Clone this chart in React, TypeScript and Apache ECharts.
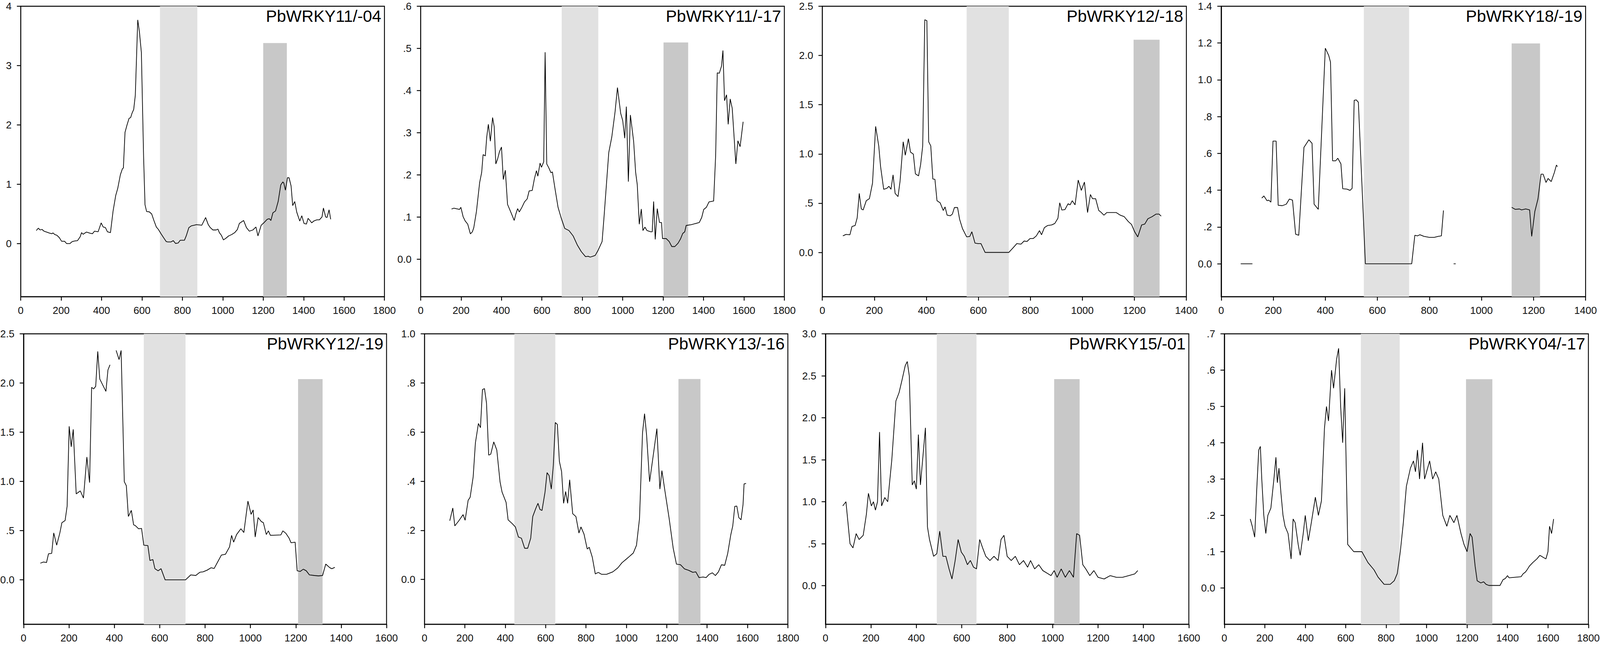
import React, { useEffect, useRef } from "react";
import * as echarts from "echarts";

const REF_W = 4549;
const REF_H = 1652;
const FONT = "'Liberation Sans', Arial, Helvetica, sans-serif";

// ---------- data ----------
const titles = [
  "PbWRKY11/-04", "PbWRKY11/-17", "PbWRKY12/-18", "PbWRKY18/-19",
  "PbWRKY12/-19", "PbWRKY13/-16", "PbWRKY15/-01", "PbWRKY04/-17",
];
const xMaxes = [1800, 1800, 1400, 1400, 1600, 1800, 1600, 1800];
const yMins = [-0.895, -0.089, -0.45, -0.179, -0.452, -0.1825, -0.46, -0.1];
const yTicks1 = [0, 1, 2, 3, 4];
const yTicks2 = [0, 0.1, 0.2, 0.3, 0.4, 0.5, 0.6];
const yTicks3 = [0, 0.5, 1, 1.5, 2, 2.5];
const yTicks4 = [0, 0.2, 0.4, 0.6, 0.8, 1, 1.2, 1.4];
const yTicks5 = [0, 0.5, 1, 1.5, 2, 2.5];
const yTicks6 = [0, 0.2, 0.4, 0.6, 0.8, 1];
const yTicks7 = [0, 0.5, 1, 1.5, 2, 2.5, 3];
const yTicks8 = [0, 0.1, 0.2, 0.3, 0.4, 0.5, 0.6, 0.7];
const integerLabels = [true, false, false, false, false, false, false, false];
// light band [from, to]; dark band [from, to, top]
const lightBands = [[689, 874], [698, 879], [555, 717], [548, 722], [530, 714], [445, 648], [490, 665], [675, 867]];
const darkBands = [[1200, 1317, 3.38], [1202, 1324, 0.514], [1197, 1297, 2.16], [1116, 1225, 1.198], [1210, 1318, 2.04], [1258, 1367, 0.816], [1007, 1119, 2.46], [1195, 1325, 0.575]];

type P = [number, number | null];

const s1: P[] = [[77,0.22],[87,0.26],[96,0.23],[105,0.24],[115,0.21],[128,0.195],[140,0.18],[153,0.167],[160,0.18],[168,0.153],[179,0.14],[191,0.1],[202,0.04],[217,0.04],[227,0],[243,0],[255,0.035],[268,0.045],[281,0.05],[294,0.115],[301,0.185],[309,0.157],[325,0.195],[345,0.174],[355,0.167],[365,0.21],[383,0.2],[398,0.35],[408,0.28],[419,0.27],[429,0.2],[444,0.185],[457,0.55],[470,0.81],[480,0.93],[493,1.16],[503,1.26],[508,1.275],[516,1.875],[526,2.0],[536,2.11],[544,2.125],[551,2.2],[559,2.26],[567,2.5],[579,3.77],[587,3.58],[597,3.22],[608,1.46],[615,0.655],[623,0.54],[636,0.536],[648,0.5],[659,0.39],[671,0.28],[681,0.24],[694,0.167],[707,0.1],[720,0.035],[727,0.028],[743,0.028],[755,0.05],[766,0.003],[779,0.01],[789,0.056],[810,0.056],[819,0.13],[832,0.27],[845,0.3],[858,0.31],[870,0.32],[896,0.31],[915,0.44],[928,0.32],[938,0.27],[951,0.23],[967,0.23],[976,0.244],[983,0.185],[993,0.14],[1003,0.063],[1015,0.09],[1029,0.13],[1044,0.153],[1059,0.185],[1072,0.237],[1082,0.34],[1103,0.39],[1117,0.27],[1131,0.21],[1149,0.23],[1164,0.28],[1174,0.13],[1190,0.31],[1200,0.34],[1220,0.41],[1230,0.42],[1238,0.39],[1248,0.52],[1261,0.55],[1274,0.71],[1287,0.99],[1297,1.04],[1302,1.02],[1310,0.9],[1320,1.11],[1328,1.11],[1338,0.97],[1346,0.64],[1356,0.71],[1366,0.53],[1381,0.38],[1391,0.47],[1402,0.34],[1414,0.33],[1422,0.425],[1429,0.4],[1440,0.35],[1450,0.38],[1465,0.4],[1478,0.4],[1491,0.45],[1498,0.6],[1509,0.45],[1516,0.44],[1526,0.57],[1534,0.41]];

const s2: P[] = [[153,0.119],[164,0.121],[192,0.118],[199,0.123],[210,0.101],[220,0.091],[233,0.083],[246,0.06],[256,0.065],[263,0.075],[276,0.113],[292,0.182],[302,0.206],[309,0.248],[320,0.245],[327,0.29],[335,0.32],[345,0.28],[356,0.336],[364,0.314],[372,0.226],[381,0.238],[390,0.255],[400,0.266],[409,0.189],[419,0.211],[430,0.13],[445,0.113],[463,0.092],[471,0.107],[480,0.12],[488,0.112],[501,0.123],[514,0.136],[527,0.143],[537,0.162],[552,0.163],[563,0.191],[573,0.21],[580,0.197],[591,0.228],[598,0.218],[609,0.231],[616,0.491],[624,0.226],[634,0.217],[645,0.205],[652,0.207],[665,0.167],[680,0.123],[696,0.097],[713,0.073],[734,0.068],[755,0.055],[775,0.034],[795,0.018],[816,0.006],[829,0.007],[839,0.005],[852,0.007],[864,0.009],[877,0.02],[898,0.042],[908,0.103],[931,0.253],[946,0.29],[962,0.349],[974,0.407],[990,0.346],[1000,0.329],[1010,0.287],[1018,0.362],[1028,0.184],[1038,0.342],[1054,0.28],[1064,0.206],[1072,0.177],[1082,0.083],[1092,0.119],[1100,0.068],[1110,0.076],[1120,0.068],[1138,0.065],[1146,0.065],[1153,0.137],[1161,0.047],[1171,0.12],[1182,0.087],[1192,0.087],[1197,0.049],[1215,0.049],[1230,0.042],[1243,0.03],[1258,0.03],[1274,0.038],[1286,0.048],[1297,0.061],[1307,0.065],[1314,0.08],[1340,0.082],[1379,0.087],[1391,0.099],[1401,0.118],[1414,0.123],[1427,0.136],[1450,0.138],[1460,0.246],[1468,0.442],[1478,0.441],[1489,0.458],[1496,0.495],[1504,0.376],[1514,0.39],[1522,0.32],[1532,0.38],[1542,0.358],[1560,0.226],[1570,0.281],[1581,0.267],[1596,0.326]];

const s3: P[] = [[79,0.168],[91,0.183],[106,0.179],[114,0.263],[126,0.273],[134,0.351],[142,0.599],[150,0.441],[157,0.431],[169,0.525],[181,0.546],[193,0.704],[205,1.28],[217,1.08],[224,0.872],[236,0.641],[248,0.651],[256,0.672],[264,0.641],[272,0.788],[280,0.599],[291,0.567],[299,0.725],[311,1.124],[319,0.987],[331,1.155],[339,1.019],[350,0.998],[358,0.798],[370,0.777],[378,0.893],[386,1.082],[394,2.363],[402,2.353],[409,1.124],[417,1.082],[425,0.746],[433,0.742],[441,0.525],[453,0.504],[465,0.426],[472,0.462],[480,0.378],[492,0.372],[500,0.389],[508,0.456],[520,0.456],[528,0.336],[539,0.242],[555,0.158],[567,0.162],[575,0.21],[587,0.095],[598,0.09],[610,0.09],[626,0],[717,0],[732,0.042],[748,0.09],[764,0.084],[776,0.116],[787,0.111],[799,0.141],[811,0.141],[823,0.168],[835,0.221],[843,0.179],[854,0.252],[866,0.273],[882,0.279],[894,0.294],[906,0.347],[913,0.504],[921,0.431],[933,0.435],[945,0.494],[953,0.483],[961,0.525],[972,0.483],[984,0.735],[996,0.63],[1008,0.714],[1020,0.405],[1031,0.588],[1039,0.546],[1051,0.546],[1063,0.426],[1071,0.41],[1083,0.378],[1094,0.405],[1130,0.405],[1146,0.378],[1161,0.363],[1177,0.313],[1189,0.284],[1201,0.21],[1213,0.158],[1228,0.279],[1240,0.288],[1252,0.342],[1268,0.363],[1283,0.389],[1295,0.389],[1303,0.368]];

const s4: P[] = [[75,0],[120,0],[138,null],[156,0.357],[164,0.369],[176,0.343],[183,0.346],[191,0.335],[199,0.667],[211,0.667],[219,0.318],[235,0.316],[250,0.324],[262,0.352],[274,0.346],[286,0.161],[298,0.155],[318,0.633],[337,0.674],[349,0.655],[357,0.324],[373,0.296],[400,1.172],[413,1.133],[420,1.096],[428,0.56],[440,0.56],[448,0.574],[460,0.543],[467,0.408],[483,0.406],[495,0.399],[503,0.41],[511,0.889],[519,0.891],[527,0.878],[554,0],[732,0],[744,0.155],[755,0.152],[763,0.158],[779,0.149],[799,0.144],[819,0.144],[834,0.149],[846,0.152],[854,0.29],[875,null],[893,0],[901,0],[1000,null],[1116,0.307],[1130,0.296],[1146,0.298],[1154,0.293],[1170,0.298],[1185,0.293],[1193,0.149],[1205,0.284],[1217,0.352],[1229,0.487],[1237,0.487],[1248,0.442],[1256,0.464],[1268,0.447],[1280,0.496],[1288,0.537],[1292,0.528]];

const s5: P[] = [[74,0.169],[88,0.181],[101,0.175],[110,0.265],[124,0.269],[133,0.477],[146,0.352],[160,0.477],[169,0.581],[183,0.602],[192,0.748],[201,1.56],[210,1.352],[219,1.529],[232,0.873],[250,0.904],[264,0.831],[279,1.248],[291,0.988],[300,1.956],[309,1.94],[318,1.967],[327,2.321],[336,2.04],[363,1.915],[372,2.133],[381,2.185],[395,null],[408,2.331],[421,2.238],[430,2.331],[444,0.998],[453,0.956],[462,0.644],[475,0.706],[485,0.56],[493,0.55],[507,0.519],[520,0.523],[530,0.352],[548,0.348],[557,0.196],[570,0.206],[579,0.113],[593,0.092],[606,0.113],[624,0],[714,0],[737,0.05],[759,0.044],[777,0.077],[791,0.081],[809,0.098],[827,0.123],[840,0.115],[854,0.175],[872,0.252],[890,0.26],[908,0.335],[917,0.452],[926,0.383],[939,0.46],[958,0.519],[971,0.481],[989,0.8],[1003,0.665],[1012,0.71],[1021,0.435],[1034,0.633],[1048,0.592],[1057,0.581],[1070,0.46],[1079,0.498],[1088,0.452],[1134,0.456],[1143,0.498],[1156,0.473],[1170,0.425],[1179,0.377],[1197,0.383],[1206,0.092],[1219,0.085],[1233,0.108],[1246,0.092],[1260,0.05],[1282,0.044],[1300,0.04],[1318,0.044],[1332,0.16],[1350,0.123],[1359,0.113],[1372,0.127]];

const s6: P[] = [[125,0.239],[140,0.291],[150,0.218],[170,0.239],[191,0.264],[201,0.241],[216,0.322],[226,0.335],[241,0.418],[252,0.556],[267,0.635],[277,0.618],[287,0.773],[297,0.777],[307,0.718],[318,0.506],[328,0.51],[343,0.56],[358,0.527],[374,0.398],[384,0.356],[404,0.314],[414,0.243],[435,0.227],[450,0.214],[465,0.173],[480,0.168],[496,0.127],[511,0.127],[526,0.168],[536,0.256],[551,0.289],[562,0.31],[572,0.285],[582,0.281],[597,0.356],[607,0.435],[617,0.423],[628,0.368],[638,0.464],[648,0.639],[658,0.631],[668,0.481],[679,0.439],[689,0.31],[699,0.358],[709,0.31],[719,0.406],[734,0.268],[750,0.256],[765,0.189],[775,0.214],[790,0.185],[806,0.124],[816,0.131],[831,0.091],[846,0.0225],[861,0.029],[877,0.021],[902,0.021],[933,0.031],[958,0.0475],[978,0.068],[999,0.0825],[1014,0.093],[1034,0.1075],[1050,0.139],[1065,0.2475],[1080,0.5975],[1090,0.675],[1100,0.589],[1115,0.398],[1136,0.5225],[1151,0.614],[1166,0.368],[1176,0.443],[1191,0.36],[1212,0.2475],[1232,0.127],[1248,0.0625],[1268,0.06],[1288,0.043],[1308,0.0375],[1329,0.029],[1344,0.031],[1360,0.0075],[1380,0.01],[1395,0.0075],[1410,0.021],[1426,0.027],[1441,0.016],[1456,0.031],[1471,0.06],[1487,0.0575],[1502,0.106],[1517,0.181],[1527,0.218],[1537,0.2975],[1547,0.299],[1557,0.252],[1568,0.243],[1578,0.306],[1583,0.389],[1593,0.391]];

const s7: P[] = [[76,0.95],[90,1.0],[108,0.5],[121,0.45],[135,0.62],[148,0.55],[166,0.6],[180,0.85],[189,1.1],[202,0.95],[211,1.0],[220,0.9],[229,1.0],[238,1.83],[247,0.95],[261,1.05],[274,1.0],[292,1.5],[310,2.2],[324,2.3],[337,2.45],[351,2.62],[360,2.67],[369,2.5],[382,1.2],[391,1.25],[400,1.15],[409,1.8],[418,1.2],[431,1.6],[440,1.88],[449,0.7],[458,0.55],[467,0.45],[476,0.35],[490,0.38],[503,0.65],[517,0.35],[530,0.35],[544,0.2],[557,0.08],[571,0.3],[584,0.55],[598,0.4],[611,0.35],[625,0.25],[638,0.3],[652,0.22],[665,0.2],[679,0.55],[692,0.45],[706,0.35],[724,0.3],[742,0.35],[760,0.3],[773,0.55],[786,0.6],[800,0.35],[818,0.3],[836,0.35],[854,0.25],[872,0.3],[890,0.22],[903,0.3],[921,0.2],[939,0.25],[957,0.18],[975,0.15],[993,0.12],[1007,0.18],[1020,0.1],[1038,0.2],[1056,0.1],[1074,0.18],[1092,0.1],[1106,0.62],[1119,0.6],[1133,0.25],[1146,0.2],[1164,0.12],[1182,0.18],[1200,0.1],[1227,0.08],[1254,0.12],[1281,0.1],[1308,0.1],[1335,0.12],[1362,0.14],[1375,0.18]];

const s8: P[] = [[128,0.19],[138,0.17],[150,0.14],[160,0.27],[170,0.38],[178,0.39],[185,0.3],[195,0.2],[205,0.15],[215,0.2],[230,0.22],[245,0.3],[255,0.36],[262,0.29],[270,0.33],[280,0.26],[290,0.2],[300,0.17],[315,0.15],[330,0.08],[340,0.19],[350,0.18],[365,0.12],[375,0.09],[390,0.15],[400,0.2],[415,0.13],[430,0.18],[450,0.25],[465,0.2],[480,0.24],[495,0.44],[505,0.5],[515,0.46],[530,0.6],[540,0.55],[555,0.63],[565,0.66],[575,0.5],[585,0.4],[595,0.55],[610,0.12],[640,0.1],[680,0.1],[710,0.07],[740,0.05],[760,0.03],[790,0.01],[820,0.01],[840,0.02],[855,0.04],[870,0.1],[885,0.18],[900,0.28],[920,0.33],[935,0.35],[945,0.32],[955,0.38],[965,0.3],[980,0.4],[990,0.3],[1005,0.33],[1015,0.35],[1030,0.3],[1045,0.32],[1060,0.3],[1080,0.2],[1100,0.17],[1115,0.2],[1135,0.18],[1150,0.2],[1170,0.15],[1185,0.12],[1200,0.1],[1215,0.15],[1225,0.14],[1240,0.06],[1250,0.02],[1268,0.014],[1282,0.017],[1294,0.01],[1308,0.007],[1363,0.007],[1378,0.023],[1389,0.026],[1400,0.034],[1408,0.028],[1467,0.031],[1477,0.039],[1489,0.044],[1499,0.052],[1508,0.06],[1525,0.07],[1545,0.08],[1560,0.09],[1575,0.085],[1590,0.08],[1600,0.1],[1608,0.17],[1618,0.15],[1628,0.19]];

const seriesData = [s1, s2, s3, s4, s5, s6, s7, s8];
const yTickSets = [yTicks1, yTicks2, yTicks3, yTicks4, yTicks5, yTicks6, yTicks7, yTicks8];

// ---------- layout (reference pixels) ----------
const PLOT_H = 744;
const layout = [
  { left: 59, top: 16, width: 1034 },
  { left: 1196, top: 16, width: 1034 },
  { left: 2338, top: 16, width: 1035 },
  { left: 3472, top: 16, width: 1036 },
  { left: 67, top: 855, width: 1032 },
  { left: 1207, top: 855, width: 1033 },
  { left: 2347, top: 855, width: 1033 },
  { left: 3481, top: 855, width: 1035 },
];

function fmtY(v: number, integer: boolean): string {
  if (integer) return String(Math.round(v));
  if (Math.abs(v) < 1e-9) return "0.0";
  if (v < 0.999) return "." + Math.round(v * 10);
  return v.toFixed(1);
}

function buildOption(cw: number, ch: number) {
  const sx = cw / REF_W;
  const sy = ch / REF_H;
  const s = Math.min(sx, sy);
  const grid: any[] = [];
  const xAxis: any[] = [];
  const yAxis: any[] = [];
  const series: any[] = [];
  const title: any[] = [];
  const axisLineStyle = { color: "#000", width: 2.5 * s };
  const labelStyle = { color: "#111", fontSize: 29 * s, fontFamily: FONT };

  seriesData.forEach((data, i) => {
    const L = layout[i];
    const ticks = yTickSets[i];
    const yMax = ticks[ticks.length - 1];
    const yMin = yMins[i];
    grid.push({
      left: L.left * sx, top: L.top * sy, width: L.width * sx, height: PLOT_H * sy,
      show: true, borderColor: "#000", borderWidth: 2.5 * s, backgroundColor: "transparent",
      containLabel: false, outerBoundsMode: "none",
    });
    xAxis.push({
      type: "value", gridIndex: i, min: 0, max: xMaxes[i], interval: 200,
      axisLine: { show: true, onZero: false, lineStyle: axisLineStyle },
      axisTick: { show: true, inside: false, length: 11 * s, lineStyle: axisLineStyle },
      axisLabel: {
        ...labelStyle, margin: 24 * s, showMinLabel: true, showMaxLabel: true, hideOverlap: false,
        formatter: (v: number) => String(Math.round(v)),
      },
      splitLine: { show: false },
    });
    yAxis.push({
      type: "value", gridIndex: i, min: yMin, max: yMax,
      axisLine: { show: true, onZero: false, lineStyle: axisLineStyle },
      axisTick: { show: true, inside: false, length: 11 * s, lineStyle: axisLineStyle, customValues: ticks },
      axisLabel: {
        ...labelStyle, margin: 26 * s, customValues: ticks, hideOverlap: false,
        formatter: (v: number) => fmtY(v, integerLabels[i]),
      },
      splitLine: { show: false },
    });
    const lb = lightBands[i];
    const db = darkBands[i];
    series.push({
      type: "line", xAxisIndex: i, yAxisIndex: i,
      data: data.map(([x, y]) => [x, y === null ? "-" : y]),
      showSymbol: false, symbol: "none", connectNulls: false, silent: true, z: 3,
      lineStyle: { color: "#000", width: 2 * s },
      emphasis: { disabled: true },
      markArea: {
        silent: true,
        data: [
          [{ xAxis: lb[0], yAxis: yMin, itemStyle: { color: "#e1e1e1" } }, { xAxis: lb[1], yAxis: yMax }],
          [{ xAxis: db[0], yAxis: yMin, itemStyle: { color: "#c8c8c8" } }, { xAxis: db[1], yAxis: db[2] }],
        ],
      },
    });
    title.push({
      text: titles[i],
      right: (REF_W - (L.left + L.width) + 9) * sx,
      top: (L.top + 4) * sy,
      padding: 0,
      textStyle: { fontSize: 47 * s, fontWeight: "normal", color: "#000", fontFamily: FONT },
    });
  });

  return { animation: false, backgroundColor: "#fff", title, grid, xAxis, yAxis, series };
}

export default function App() {
  const ref = useRef<HTMLDivElement>(null);
  useEffect(() => {
    document.body.style.margin = "0";
    document.body.style.overflow = "hidden";
    const el = ref.current!;
    const cw = window.innerWidth;
    const ch = window.innerHeight;
    el.style.width = cw + "px";
    el.style.height = ch + "px";
    const chart = echarts.init(el, null, { renderer: "svg", width: cw, height: ch });
    chart.setOption(buildOption(cw, ch) as any);
    return () => chart.dispose();
  }, []);
  return <div ref={ref} style={{ width: "100vw", height: "100vh" }} />;
}
